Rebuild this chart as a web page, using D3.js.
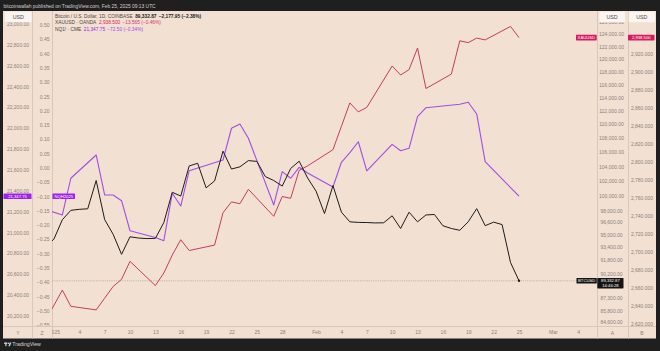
<!DOCTYPE html>
<html><head><meta charset="utf-8">
<script src="https://cdn.jsdelivr.net/npm/d3@7"></script>
<style>
html,body{margin:0;padding:0;background:#1f1f1f;}
svg{display:block;}
</style></head><body>
<svg id="c" width="660" height="351"></svg>
<script>
// ---------------- DATA ----------------
const btcStart = "2024-12-31";
const btcClose = [93430, 94420, 96890, 98110, 98240, 98310, 102080, 96920, 95040, 92530,
  94720, 94560, 94490, 94520, 96530, 100500, 99990, 104080, 104450, 101090,
  102020, 106150, 103650, 103960, 104820, 104710, 102620, 102080, 101330, 103730,
  104740, 102430, 100650, 97690, 101400, 97870, 96620, 96550, 96530, 96480,
  96500, 97400, 95770, 97870, 96620, 97510, 97570, 96120, 95770, 95540,
  96630, 98330, 96130, 96580, 96270, 91530, 89332.87];

const xauDates = ["2024-12-31","2025-01-02","2025-01-03","2025-01-06","2025-01-07","2025-01-08","2025-01-09","2025-01-10",
  "2025-01-13","2025-01-14","2025-01-15","2025-01-16","2025-01-17","2025-01-20","2025-01-21","2025-01-22","2025-01-23","2025-01-24",
  "2025-01-27","2025-01-28","2025-01-29","2025-01-30","2025-01-31","2025-02-03","2025-02-04","2025-02-05","2025-02-06","2025-02-07",
  "2025-02-10","2025-02-11","2025-02-12","2025-02-13","2025-02-14","2025-02-17","2025-02-18","2025-02-19","2025-02-20","2025-02-21",
  "2025-02-24","2025-02-25"];
const xauClose = [2624, 2658, 2640, 2636, 2649, 2662, 2670, 2690,
  2663, 2677, 2697, 2714, 2702, 2708, 2744, 2756, 2754, 2770,
  2740, 2762, 2760, 2791, 2796, 2814, 2840, 2866, 2856, 2861,
  2907, 2897, 2903, 2927, 2882, 2898, 2935, 2933, 2938, 2936,
  2951, 2938.5];

const nqDates = ["2024-12-31","2025-01-02","2025-01-03","2025-01-06","2025-01-07","2025-01-08","2025-01-09","2025-01-10",
  "2025-01-13","2025-01-14","2025-01-15","2025-01-16","2025-01-17","2025-01-21","2025-01-22","2025-01-23","2025-01-24",
  "2025-01-27","2025-01-28","2025-01-29","2025-01-30","2025-01-31","2025-02-03","2025-02-04","2025-02-05","2025-02-06","2025-02-07",
  "2025-02-10","2025-02-11","2025-02-12","2025-02-13","2025-02-14","2025-02-18","2025-02-19","2025-02-20","2025-02-21",
  "2025-02-24","2025-02-25"];
const nqClose = [21221, 21168, 21520, 21743, 21360, 21360, 21305, 21017,
  20952, 20922, 21376, 21254, 21592, 21695, 21999, 22040, 21903,
  21264, 21583, 21520, 21625, 21570, 21436, 21673, 21765, 21870, 21590,
  21845, 21784, 21807, 22110, 22196, 22229, 22248, 22136, 21679,
  21431, 21347.75];

const yTicksNQ = [20200,20400,20600,20800,21000,21200,21400,21600,21800,22000,22200,22400,22600,22800,23000];
const zTicks = [0.50,0.45,0.40,0.35,0.30,0.25,0.20,0.15,0.10,0.05,0.00,-0.05,-0.10,-0.15,-0.20,-0.25,-0.30,-0.35,-0.40,-0.45,-0.50,-0.55];
const aTicksBTC = [126000,124000,122000,120000,118000,116000,114000,112000,110000,108000,106000,104000,102000,100000,
  98000,96600,95000,93400,91800,90200,87300,85800,84600];
const bTicksXAU = [2920,2900,2880,2860,2840,2820,2800,2780,2760,2740,2720,2700,2680,2660,2640,2620];
const xTickDates = ["2025-01-01","2025-01-04","2025-01-07","2025-01-10","2025-01-13","2025-01-16","2025-01-19","2025-01-22",
  "2025-01-25","2025-01-28","2025-02-01","2025-02-04","2025-02-07","2025-02-10","2025-02-13","2025-02-16","2025-02-19",
  "2025-02-22","2025-02-25","2025-03-01","2025-03-04"];
const xTickLabels = ["2025","4","7","10","13","16","19","22","25","28","Feb","4","7","10","13","16","19","22","25","Mar","4"];

const headerText = "bitcoinwallah published on TradingView.com, Feb 25, 2025 09:13 UTC";
const legendRows = [
  {title:"Bitcoin / U.S. Dollar, 1D, COINBASE", value:"89,332.87", change:"−2,177.95 (−2.38%)"},
  {title:"XAUUSD · OANDA", value:"2,938.500", change:"−13.565 (−0.46%)"},
  {title:"NQ1! · CME", value:"21,347.75", change:"−72.50 (−0.34%)"}
];

// ---------------- STYLE ----------------
const FONT = '"Liberation Sans", Arial, sans-serif';
const C = {dark:"#1f1f1f", bg:"#f2e0d2", sep:"#d9c7b9", axis:"#8a827c", box:"#fbf5f1",
  btc:"#1e1b19", xau:"#c43c64", xauLbl:"#d81b60", nq:"#a24de6", nqLbl:"#a020f0", legendTitle:"#4a4543"};
const legendColors = [["#222","#222"],[C.xauLbl,"#d6336c"],[C.nqLbl,"#a64bea"]];

const svg = d3.select("#c");
const parse = d3.utcParse("%Y-%m-%d");
const P = {l:52, r:597, t:11, b:326};

const x = d3.scaleUtc().domain([parse("2025-01-01"), parse("2025-02-25")]).range([53.9, 519]);
const yA = d3.scaleLog().domain([124000, 84600]).range([34.3, 321.7]);
const yB = d3.scaleLinear().domain([2920, 2620]).range([54.3, 324.3]);
const yY = d3.scaleLinear().domain([23000, 20200]).range([23.8, 316]);
const yZ = d3.scaleLinear().domain([0.5, -0.55]).range([25, 325]);

// frame
svg.append("rect").attr("width",660).attr("height",351).attr("fill",C.dark);
svg.append("rect").attr("x",3).attr("y",P.t).attr("width",653).attr("height",338.5-P.t).attr("fill",C.bg);

const defs = svg.append("defs");
defs.append("clipPath").attr("id","plotClip").append("rect").attr("x",P.l).attr("y",P.t).attr("width",P.r-P.l).attr("height",P.b-P.t);
defs.append("clipPath").attr("id","axClip").append("rect").attr("x",0).attr("y",P.t).attr("width",660).attr("height",P.b-P.t);
defs.append("clipPath").attr("id","xClip").append("rect").attr("x",P.l).attr("y",P.b).attr("width",656-P.l).attr("height",14);

// separators
[32, 52, 597, 628].forEach(v=>{
  svg.append("line").attr("x1",v+0.5).attr("x2",v+0.5).attr("y1",P.t).attr("y2",338.5).attr("stroke",C.sep).attr("stroke-width",1);
});
svg.append("line").attr("x1",3).attr("x2",656).attr("y1",P.b+0.5).attr("y2",P.b+0.5).attr("stroke",C.sep).attr("stroke-width",1);

// header text
svg.append("text").attr("x",3.5).attr("y",7.8).attr("font-family",FONT).attr("font-size",4.9)
  .attr("fill","#cfcfcf").text(headerText);

// plot
const plot = svg.append("g").attr("clip-path","url(#plotClip)");
const lastBtc = btcClose[btcClose.length-1];
plot.append("line").attr("x1",P.l).attr("x2",P.r).attr("y1",yA(lastBtc)).attr("y2",yA(lastBtc))
  .attr("stroke","#a89a90").attr("stroke-width",0.6).attr("stroke-dasharray","1.2,1");

const btcData = btcClose.map((v,i)=>({d:d3.utcDay.offset(parse(btcStart),i), v}));
const xauData = xauDates.map((s,i)=>({d:parse(s), v:xauClose[i]}));
const nqData = nqDates.map((s,i)=>({d:parse(s), v:nqClose[i]}));

plot.append("path").datum(xauData).attr("fill","none").attr("stroke",C.xau).attr("stroke-width",1)
  .attr("stroke-linejoin","round").attr("d",d3.line().x(d=>x(d.d)).y(d=>yB(d.v)));
plot.append("path").datum(nqData).attr("fill","none").attr("stroke",C.nq).attr("stroke-width",1.1)
  .attr("stroke-linejoin","round").attr("d",d3.line().x(d=>x(d.d)).y(d=>yY(d.v)));
plot.append("path").datum(btcData).attr("fill","none").attr("stroke",C.btc).attr("stroke-width",1)
  .attr("stroke-linejoin","round").attr("d",d3.line().x(d=>x(d.d)).y(d=>yA(d.v)));
const lb = btcData[btcData.length-1];
plot.append("circle").attr("cx",x(lb.d)).attr("cy",yA(lb.v)).attr("r",1.2).attr("fill",C.btc);

// legend
const legY = [17.6, 24.3, 30.6];
legendRows.forEach((r,i)=>{
  let cx = 55;
  const t1 = svg.append("text").attr("x",cx).attr("y",legY[i]).attr("font-family",FONT).attr("font-size",4.8)
    .attr("fill",C.legendTitle).text(r.title);
  cx += t1.node().getComputedTextLength() + 2.6;
  const t2 = svg.append("text").attr("x",cx).attr("y",legY[i]).attr("font-family",FONT).attr("font-size",4.8)
    .attr("font-weight", i===0?"bold":"normal").attr("fill",legendColors[i][0]).text(r.value);
  cx += t2.node().getComputedTextLength() + 2.2;
  svg.append("text").attr("x",cx).attr("y",legY[i]).attr("font-family",FONT).attr("font-size",4.8)
    .attr("font-weight", i===0?"bold":"normal").attr("fill",legendColors[i][1]).text(r.change);
});

// axes
function styleAxis(g, anchor){
  g.select(".domain").remove();
  g.selectAll(".tick line").remove();
  g.attr("font-family",FONT).attr("font-size",5);
  g.selectAll("text").attr("fill",C.axis).attr("text-anchor",anchor).attr("x",0);
}
const axWrap = svg.append("g").attr("clip-path","url(#axClip)");
axWrap.append("g").attr("transform","translate(18,0)")
  .call(d3.axisRight(yY).tickValues(yTicksNQ).tickSize(0).tickPadding(0).tickFormat(d3.format(",.2f")))
  .call(g=>styleAxis(g,"middle"));
axWrap.append("g").attr("transform","translate(49.5,0)")
  .call(d3.axisLeft(yZ).tickValues(zTicks).tickSize(0).tickPadding(0)
    .tickFormat(d=>(d<-1e-9?"−":"")+Math.abs(d).toFixed(2)))
  .call(g=>styleAxis(g,"end"));
axWrap.append("g").attr("transform","translate(611.5,0)")
  .call(d3.axisRight(yA).tickValues(aTicksBTC).tickSize(0).tickPadding(0).tickFormat(d3.format(",.2f")))
  .call(g=>styleAxis(g,"middle"));
axWrap.append("g").attr("transform","translate(642,0)")
  .call(d3.axisRight(yB).tickValues(bTicksXAU).tickSize(0).tickPadding(0).tickFormat(d3.format(",.3f")))
  .call(g=>styleAxis(g,"middle"));

// x axis
const xWrap = svg.append("g").attr("clip-path","url(#xClip)");
xWrap.append("g").attr("transform",`translate(0,${P.b+4.5})`)
  .call(d3.axisBottom(x).tickValues(xTickDates.map(parse)).tickSize(0).tickPadding(0)
    .tickFormat((d,i)=>xTickLabels[i]))
  .call(g=>{g.select(".domain").remove(); g.attr("font-family",FONT).attr("font-size",5);
    g.selectAll("text").attr("fill",C.axis);});
[["Y",18],["Z",42],["A",612.5],["B",642]].forEach(([t,px])=>{
  svg.append("text").attr("x",px).attr("y",334.8).attr("text-anchor","middle").attr("font-family",FONT)
    .attr("font-size",5).attr("fill",C.axis).text(t);
});

// USD boxes
[[5,26.5,18.25],[599.3,25.7,612.1],[628.7,26.3,641.8]].forEach(([bx,bw,cx])=>{
  svg.append("rect").attr("x",bx).attr("y",11.8).attr("width",bw).attr("height",10.4).attr("fill",C.box).attr("rx",0.8);
  svg.append("text").attr("x",cx).attr("y",18.9).attr("text-anchor","middle").attr("font-family",FONT)
    .attr("font-size",5.3).attr("fill","#4a4a4a").text("USD");
});

// price labels
function tag(xl, w, yc, h, fill, lines){
  svg.append("rect").attr("x",xl).attr("y",yc-2.8).attr("width",w).attr("height",h).attr("fill",fill).attr("rx",0.6);
  lines.forEach((t,i)=>{
    svg.append("text").attr("x",xl+w/2).attr("y",yc+1.45+i*5).attr("text-anchor","middle").attr("font-family",FONT)
      .attr("font-size",4.2).attr("fill","#fff").text(t);
  });
}
const yXauLast = yB(xauClose[xauClose.length-1]);
tag(576, 20.7, yXauLast, 5.6, C.xauLbl, ["XAUUSD"]);
tag(628, 26.5, yXauLast, 5.6, C.xauLbl, ["2,938.500"]);
const yBtcLast = yA(lastBtc);
tag(576.5, 20.3, yBtcLast, 5.6, "#141414", ["BTCUSD"]);
tag(597.3, 26.2, yBtcLast, 10.4, "#141414", ["89,332.87","14:46:28"]);
const yNqLast = yY(nqClose[nqClose.length-1]);
tag(3.5, 28, yNqLast, 5.6, C.nqLbl, ["21,347.75"]);
tag(52.5, 22.5, yNqLast, 5.6, C.nqLbl, ["NQH2025"]);

// bottom logo
const logo = svg.append("g").attr("fill","#d6d6d6");
logo.append("rect").attr("x",4).attr("y",342.6).attr("width",3.4).attr("height",1.2);
logo.append("rect").attr("x",5.3).attr("y",342.6).attr("width",1.2).attr("height",3.6);
logo.append("circle").attr("cx",8.5).attr("cy",343.3).attr("r",0.75);
logo.append("path").attr("d","M9.8,342.6 L11.4,342.6 L9.9,346.2 L8.4,346.2 Z");
svg.append("text").attr("x",12.3).attr("y",346.2).attr("font-family",FONT).attr("font-size",5.2)
  .attr("fill","#d6d6d6").text("TradingView");
</script>
</body></html>
